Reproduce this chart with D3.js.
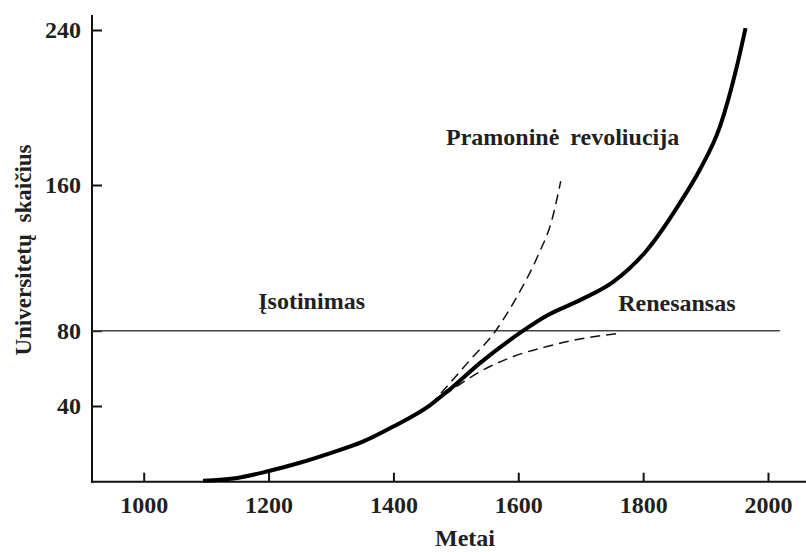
<!DOCTYPE html>
<html>
<head>
<meta charset="utf-8">
<script src="https://cdn.jsdelivr.net/npm/d3@7"></script>
<style>
  body { margin: 0; background: #fff; }
  svg text { font-family: "Liberation Serif", "Times New Roman", serif; font-weight: bold; fill: #231f20; }
</style>
</head>
<body>
<div id="chart"></div>
<script>
// universities over time
const mainYears  = [1095, 1150, 1199, 1250, 1298, 1350, 1399, 1459, 1493, 1539, 1608, 1646, 1699, 1752, 1806, 1862, 1891, 1923, 1950, 1964];
const mainValues = [0.5, 2, 5.5, 10, 15, 21, 29, 40.5, 49.6, 62.9, 80, 88.3, 96.8, 106.8, 124.2, 151.8, 168, 190.1, 221, 241];

// dashed branch: industrial revolution
const indYears  = [1459, 1490, 1523, 1563, 1598, 1632, 1654, 1668];
const indValues = [40.5, 52, 64.5, 79.6, 98.8, 121.6, 141, 162];

// dashed branch: saturation
const renYears  = [1459, 1493, 1539, 1592, 1646, 1699, 1758];
const renValues = [40.5, 48.5, 58.3, 66.3, 71.6, 75.6, 78.4];

const xTicks = [1000, 1200, 1400, 1600, 1800, 2000];
const yTicks = [40, 80, 160, 240];
const saturationLevel = 80;
const saturationEnd = 2019;

const labels = [
    {text: "Pramoninė revoliucija", year: 1671, value: 180.6},
    {text: "Įsotinimas", year: 1269, value: 92},
    {text: "Renesansas", year: 1854, value: 91}
];

const width = 806, height = 552;

const svg = d3.select("#chart").append("svg")
    .attr("width", width)
    .attr("height", height);

// scales (the printed y axis is slightly uneven, so piecewise)
const x = d3.scaleLinear().domain([1000, 2000]).range([143.7, 768]);
const y = d3.scaleLinear().domain([0, 40, 80, 160, 240]).range([481.7, 406, 330.7, 185, 30]);

const axisX = 92, axisY = 481.7;

// x axis
const xAxis = d3.axisBottom(x).tickValues(xTicks).tickSize(-9).tickSizeOuter(0)
    .tickFormat(d3.format("d"));
const gx = svg.append("g")
    .attr("class", "x-axis")
    .attr("transform", "translate(0," + axisY + ")")
    .call(xAxis);
gx.select(".domain").remove();
gx.selectAll(".tick line").attr("stroke", "#111").attr("stroke-width", 2);
gx.selectAll(".tick text").attr("font-size", 24).attr("dy", 0).attr("y", 31);
svg.append("line")
    .attr("x1", axisX - 1).attr("x2", width)
    .attr("y1", axisY).attr("y2", axisY)
    .attr("stroke", "#111").attr("stroke-width", 2);

// y axis
const yAxis = d3.axisLeft(y).tickValues(yTicks).tickSize(-10).tickSizeOuter(0);
const gy = svg.append("g")
    .attr("class", "y-axis")
    .attr("transform", "translate(" + axisX + ",0)")
    .call(yAxis);
gy.select(".domain").remove();
gy.selectAll(".tick line").attr("stroke", "#111").attr("stroke-width", 2);
gy.selectAll(".tick text").attr("font-size", 24).attr("x", -11);
svg.append("line")
    .attr("x1", axisX).attr("x2", axisX)
    .attr("y1", 15).attr("y2", axisY + 1)
    .attr("stroke", "#111").attr("stroke-width", 2);

// saturation level
svg.append("line")
    .attr("x1", axisX).attr("x2", x(saturationEnd))
    .attr("y1", y(saturationLevel)).attr("y2", y(saturationLevel))
    .attr("stroke", "#444").attr("stroke-width", 1.6);

const line = d3.line()
    .x(d => x(d[0]))
    .y(d => y(d[1]))
    .curve(d3.curveMonotoneX);

svg.append("path")
    .datum(d3.zip(indYears, indValues))
    .attr("fill", "none")
    .attr("stroke", "#111")
    .attr("stroke-width", 1.5)
    .attr("stroke-dasharray", "10,6")
    .attr("d", line);

svg.append("path")
    .datum(d3.zip(renYears, renValues))
    .attr("fill", "none")
    .attr("stroke", "#111")
    .attr("stroke-width", 1.5)
    .attr("stroke-dasharray", "10,6")
    .attr("d", line);

svg.append("path")
    .datum(d3.zip(mainYears, mainValues))
    .attr("fill", "none")
    .attr("stroke", "#000")
    .attr("stroke-width", 4)
    .attr("d", line);

// annotations
svg.selectAll(".annot")
    .data(labels)
    .enter().append("text")
    .attr("class", "annot")
    .attr("x", d => x(d.year))
    .attr("y", d => y(d.value))
    .attr("text-anchor", "middle")
    .attr("font-size", 24)
    .attr("word-spacing", 5)
    .text(d => d.text);

// axis titles
svg.append("text")
    .attr("x", 465)
    .attr("y", 546)
    .attr("text-anchor", "middle")
    .attr("font-size", 24)
    .text("Metai");

svg.append("text")
    .attr("transform", "translate(31,250) rotate(-90)")
    .attr("text-anchor", "middle")
    .attr("font-size", 23)
    .attr("word-spacing", 6)
    .text("Universitetų skaičius");
</script>
</body>
</html>
